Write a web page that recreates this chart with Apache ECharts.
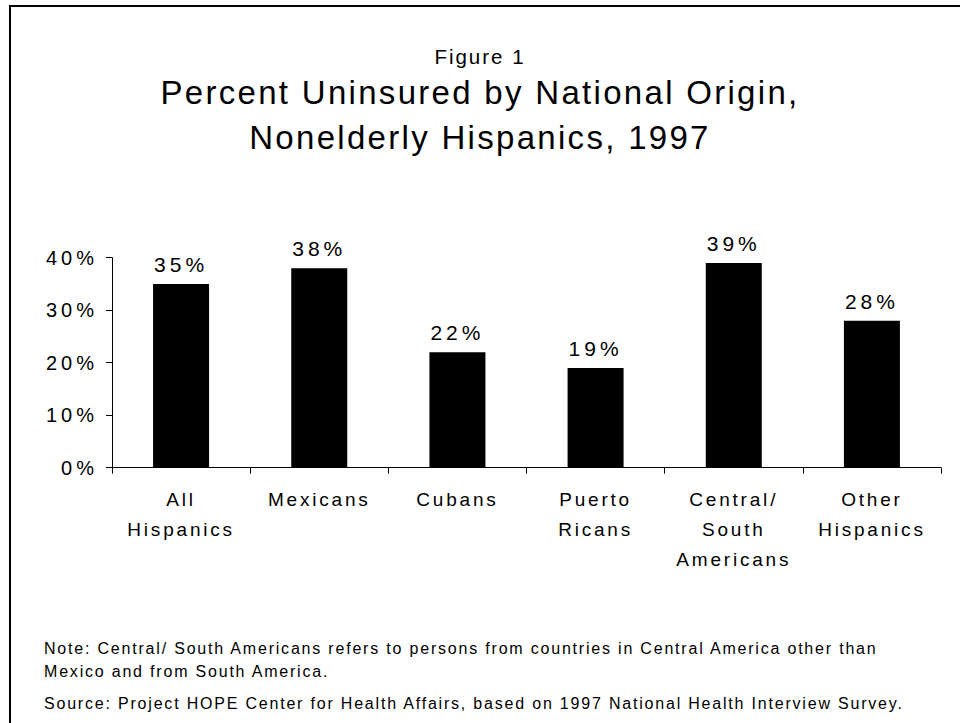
<!DOCTYPE html>
<html>
<head>
<meta charset="utf-8">
<script src="https://cdn.jsdelivr.net/npm/echarts@6/dist/echarts.min.js"></script>
<style>
  html, body { margin: 0; padding: 0; background: #fff; }
  #chart { width: 960px; height: 723px; }
  #chart text[style*="33px"] { letter-spacing: 2.3px; }
  #chart text[style*="20.5px"] { letter-spacing: 2px; }
  #chart text[style*="20px"] { letter-spacing: 4px; }
  #chart text[style*="21px"] { letter-spacing: 4px; }
  #chart text[style*="19px"] { letter-spacing: 2.8px; }
  #chart text[style*="16px"] { letter-spacing: 1.8px; }
</style>
</head>
<body>
<div id="chart"></div>
<script>
const categories = ['All\nHispanics', 'Mexicans', 'Cubans', 'Puerto\nRicans', 'Central/\nSouth\nAmericans', 'Other\nHispanics'];
const uninsured = [35, 38, 22, 19, 39, 28];
const yTicks = [0, 10, 20, 30, 40];
const figureLabel = 'Figure 1';
const titleLines = ['Percent Uninsured by National Origin,', 'Nonelderly Hispanics, 1997'];
const noteLines = [
  'Note: Central/ South Americans refers to persons from countries in Central America other than',
  'Mexico and from South America.'
];
const sourceLine = 'Source: Project HOPE Center for Health Affairs, based on 1997 National Health Interview Survey.';

const FONT = '"Liberation Sans", Arial, Helvetica, sans-serif';
const chart = echarts.init(document.getElementById('chart'), null, { renderer: 'svg' });

const titleStyle = { fontFamily: FONT, fontSize: 33, fontWeight: 'normal', color: '#000', lineHeight: 45 };

chart.setOption({
  backgroundColor: '#ffffff',
  animation: false,
  title: [
    {
      text: figureLabel,
      left: 'center',
      top: 44,
      padding: 0,
      textStyle: { fontFamily: FONT, fontSize: 20.5, fontWeight: 'normal', color: '#000', lineHeight: 24 }
    },
    { text: titleLines[0], left: 'center', top: 69.5, padding: 0, textStyle: titleStyle },
    { text: titleLines[1], left: 'center', top: 114.5, padding: 0, textStyle: titleStyle }
  ],
  grid: { left: 112, right: 19, top: 257.7, bottom: 255.3, containLabel: false },
  xAxis: {
    type: 'category',
    data: categories,
    axisLine: { show: true, lineStyle: { color: '#000', width: 1 } },
    axisTick: { show: true, length: 6, inside: false, lineStyle: { color: '#000' } },
    axisLabel: {
      interval: 0,
      margin: 17,
      color: '#000',
      fontFamily: FONT,
      fontSize: 19,
      lineHeight: 30,
      verticalAlign: 'top'
    }
  },
  yAxis: {
    type: 'value',
    min: yTicks[0],
    max: yTicks[yTicks.length - 1],
    interval: 10,
    axisLine: { show: true, lineStyle: { color: '#000', width: 1 } },
    axisTick: { show: true, length: 6, lineStyle: { color: '#000' } },
    splitLine: { show: false },
    axisLabel: {
      formatter: '{value}%',
      margin: 14,
      color: '#000',
      fontFamily: FONT,
      fontSize: 20
    }
  },
  series: [{
    type: 'bar',
    data: uninsured,
    barWidth: 56,
    itemStyle: { color: '#000' },
    label: {
      show: true,
      position: 'top',
      distance: 9,
      formatter: '{c}%',
      color: '#000',
      fontFamily: FONT,
      fontSize: 21
    }
  }],
  graphic: [
    {
      type: 'rect',
      shape: { x: 10, y: 6, width: 1000, height: 1000 },
      style: { fill: 'none', stroke: '#000', lineWidth: 2 },
      silent: true
    },
    {
      type: 'text',
      left: 44,
      top: 637,
      style: {
        text: noteLines.join('\n'),
        fontFamily: FONT,
        fontSize: 16,
        lineHeight: 23,
        fill: '#000'
      }
    },
    {
      type: 'text',
      left: 44,
      top: 692,
      style: {
        text: sourceLine,
        fontFamily: FONT,
        fontSize: 16,
        lineHeight: 22,
        fill: '#000'
      }
    }
  ]
});
</script>
</body>
</html>
